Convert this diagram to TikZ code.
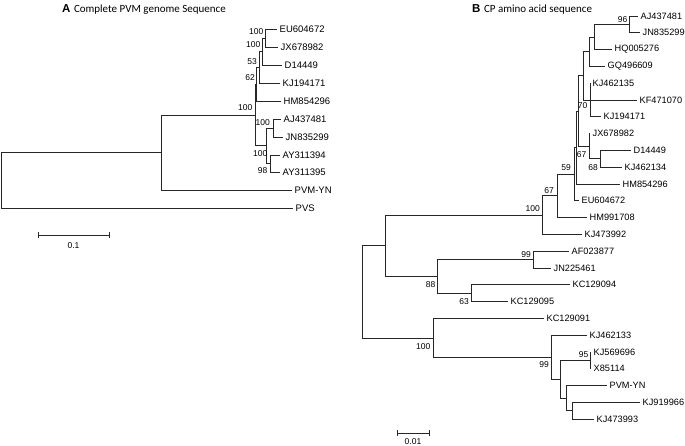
\documentclass[tikz,border=0pt]{standalone}
\usepackage{fontspec}
\setmainfont{Liberation Sans}
\newfontfamily\titlefont{Carlito}
\begin{document}
\begin{tikzpicture}[x=1pt,y=-1pt,
  br/.style={line width=0.8pt,draw=black!85},
  leafA/.style={anchor=west,inner xsep=2.5pt,inner ysep=0.5pt,font=\fontsize{9.5}{10}\selectfont},
  leafB/.style={anchor=west,inner xsep=2.5pt,inner ysep=0.5pt,font=\fontsize{9.2}{10}\selectfont},
  bs/.style={anchor=east,inner sep=0pt,font=\fontsize{8.5}{9}\selectfont},
  ttl/.style={anchor=base west,inner sep=0pt},
  sclab/.style={inner sep=0pt,font=\fontsize{8.5}{9}\selectfont}]
\useasboundingbox (0,0) rectangle (685,446);

% ---------------- Panel A ----------------
\node[ttl] (titleA) at (62,13) {\fontsize{11.5}{12}\selectfont\bfseries A\hspace{3.5pt}\titlefont\fontsize{11}{12}\selectfont\mdseries Complete PVM genome Sequence};

\coordinate (rA) at (1,180);
\coordinate (NA) at (161,152.5);
\coordinate (IN) at (255,115);
\coordinate (N4) at (256,84.2);
\coordinate (N3) at (259,67.4);
\coordinate (N2) at (262,51.8);
\coordinate (N1) at (265,38.5);
\coordinate (L) at (266,145.9);
\coordinate (AJN) at (273,128.3);
\coordinate (AY) at (270,163.7);

\node[leafA] (aEU) at (277,29.5) {EU604672};
\node[leafA] (aJX) at (278,47.5) {JX678982};
\node[leafA] (aD) at (282,65) {D14449};
\node[leafA] (aKJ) at (280,83) {KJ194171};
\node[leafA] (aHM) at (281,101) {HM854296};
\node[leafA] (aAJ) at (281,119.5) {AJ437481};
\node[leafA] (aJN) at (283,137) {JN835299};
\node[leafA] (aAY4) at (280,155) {AY311394};
\node[leafA] (aAY5) at (280,172.5) {AY311395};
\node[leafA] (aPVM) at (292,190) {PVM-YN};
\node[leafA] (aPVS) at (293,208) {PVS};

\draw[br] (rA) |- (aPVS.west);
\draw[br] (rA) |- (NA);
\draw[br] (NA) |- (aPVM.west);
\draw[br] (NA) |- (IN);
\draw[br] (IN) |- (N4);
\draw[br] (IN) |- (L);
\draw[br] (N4) |- (N3);
\draw[br] (N4) |- (aHM.west);
\draw[br] (N3) |- (N2);
\draw[br] (N3) |- (aKJ.west);
\draw[br] (N2) |- (N1);
\draw[br] (N2) |- (aD.west);
\draw[br] (N1) |- (aEU.west);
\draw[br] (N1) |- (aJX.west);
\draw[br] (L) |- (AJN);
\draw[br] (L) |- (AY);
\draw[br] (AJN) |- (aAJ.west);
\draw[br] (AJN) |- (aJN.west);
\draw[br] (AY) |- (aAY4.west);
\draw[br] (AY) |- (aAY5.west);

\node[bs] (bA1) at (263.5,32) {100};
\node[bs] (bA2) at (260.5,45) {100};
\node[bs] (bA3) at (257,62) {53};
\node[bs] (bA4) at (255,77.5) {62};
\node[bs] (bA5) at (252.5,107.5) {100};
\node[bs] (bA6) at (270,122.5) {100};
\node[bs] (bA7) at (267.5,154) {100};
\node[bs] (bA8) at (267.5,171) {98};

\coordinate (sa1) at (38,235);
\coordinate (sa2) at (109,235);
\draw[br] (sa1) -- (sa2);
\draw[br] ([yshift=-3pt]sa1) -- ([yshift=3pt]sa1);
\draw[br] ([yshift=-3pt]sa2) -- ([yshift=3pt]sa2);
\node[sclab] (sca) at (73.5,246) {0.1};

% ---------------- Panel B ----------------
\node[ttl] (titleB) at (472,13) {\fontsize{11.5}{12}\selectfont\bfseries B\hspace{3.5pt}\titlefont\fontsize{11}{12}\selectfont\mdseries CP amino acid sequence};

\coordinate (n96) at (629,24.4);
\coordinate (nHQ) at (594,37);
\coordinate (nGQ) at (589,51.7);
\coordinate (n70) at (590,100);
\coordinate (nU) at (583,75.85);
\coordinate (n68) at (600,158.8);
\coordinate (n67) at (589,146.2);
\coordinate (nBig1) at (578,111);
\coordinate (nBig2) at (576.5,147.5);
\coordinate (n59) at (574,174.2);
\coordinate (n67b) at (557,195.9);
\coordinate (n100) at (542,215.1);
\coordinate (n99) at (533,259.6);
\coordinate (n63) at (471,293.2);
\coordinate (n88) at (437,276.4);
\coordinate (nA) at (385,245.8);
\coordinate (n95) at (590,360.4);
\coordinate (nF) at (572,410.8);
\coordinate (nP) at (566,398.2);
\coordinate (nQ) at (560,379.3);
\coordinate (n99b) at (551,357.3);
\coordinate (nB) at (433,337.9);
\coordinate (rB) at (362,291.9);

\node[leafB] (bAJ) at (638,16) {AJ437481};
\node[leafB] (bJN) at (640,32.8) {JN835299};
\node[leafB] (bHQ) at (612,49.6) {HQ005276};
\node[leafB] (bGQ) at (605,66.4) {GQ496609};
\node[leafB] (bKJ35) at (590,83.2) {KJ462135};
\node[leafB] (bKF) at (637,100) {KF471070};
\node[leafB] (bKJ71) at (601,116.8) {KJ194171};
\node[leafB] (bJX) at (590,133.6) {JX678982};
\node[leafB] (bD) at (631,150.4) {D14449};
\node[leafB] (bKJ34) at (622,167.2) {KJ462134};
\node[leafB] (bHM96) at (620,184) {HM854296};
\node[leafB] (bEU) at (579,200.8) {EU604672};
\node[leafB] (bHM08) at (587,217.6) {HM991708};
\node[leafB] (bKJ92) at (582,234.4) {KJ473992};
\node[leafB] (bAF) at (569,251.2) {AF023877};
\node[leafB] (bJN61) at (551,268) {JN225461};
\node[leafB] (bKC94) at (570,284.8) {KC129094};
\node[leafB] (bKC95) at (508,301.6) {KC129095};
\node[leafB] (bKC91) at (544,318.4) {KC129091};
\node[leafB] (bKJ33) at (587,335.2) {KJ462133};
\node[leafB] (bKJ96) at (591,352) {KJ569696};
\node[leafB] (bX) at (591,368.8) {X85114};
\node[leafB] (bPVM) at (607,385.6) {PVM-YN};
\node[leafB] (bKJ66) at (640,402.4) {KJ919966};
\node[leafB] (bKJ93) at (594,419.2) {KJ473993};

\draw[br] (rB) |- (nA);
\draw[br] (rB) |- (nB);
\draw[br] (nA) |- (n100);
\draw[br] (nA) |- (n88);
\draw[br] (n100) |- (n67b);
\draw[br] (n100) |- (bKJ92.west);
\draw[br] (n67b) |- (n59);
\draw[br] (n67b) |- (bHM08.west);
\draw[br] (n59) |- (nBig2);
\draw[br] (n59) |- (bEU.west);
\draw[br] (nBig2) |- (nBig1);
\draw[br] (nBig2) |- (bHM96.west);
\draw[br] (nBig1) |- (nU);
\draw[br] (nBig1) |- (n67);
\draw[br] (nU) |- (nGQ);
\draw[br] (nU) |- (n70);
\draw[br] (nGQ) |- (nHQ);
\draw[br] (nGQ) |- (bGQ.west);
\draw[br] (nHQ) |- (n96);
\draw[br] (nHQ) |- (bHQ.west);
\draw[br] (n96) |- (bAJ.west);
\draw[br] (n96) |- (bJN.west);
\draw[br] (n70) |- (bKJ35.west);
\draw[br] (n70) |- (bKF.west);
\draw[br] (n70) |- (bKJ71.west);
\draw[br] (n67) |- (bJX.west);
\draw[br] (n67) |- (n68);
\draw[br] (n68) |- (bD.west);
\draw[br] (n68) |- (bKJ34.west);
\draw[br] (n88) |- (n99);
\draw[br] (n88) |- (n63);
\draw[br] (n99) |- (bAF.west);
\draw[br] (n99) |- (bJN61.west);
\draw[br] (n63) |- (bKC94.west);
\draw[br] (n63) |- (bKC95.west);
\draw[br] (nB) |- (bKC91.west);
\draw[br] (nB) |- (n99b);
\draw[br] (n99b) |- (bKJ33.west);
\draw[br] (n99b) |- (nQ);
\draw[br] (nQ) |- (n95);
\draw[br] (nQ) |- (nP);
\draw[br] (n95) |- (bKJ96.west);
\draw[br] (n95) |- (bX.west);
\draw[br] (nP) |- (bPVM.west);
\draw[br] (nP) |- (nF);
\draw[br] (nF) |- (bKJ66.west);
\draw[br] (nF) |- (bKJ93.west);

\node[bs] (bb96) at (627.5,19.5) {96};
\node[bs] (bb70) at (587.5,105.5) {70};
\node[bs] (bb67) at (586.5,155) {67};
\node[bs] (bb68) at (598,168) {68};
\node[bs] (bb59) at (571,168) {59};
\node[bs] (bb67b) at (554,191) {67};
\node[bs] (bb100) at (540,209) {100};
\node[bs] (bb99) at (531,254.5) {99};
\node[bs] (bb88) at (435.5,285) {88};
\node[bs] (bb63) at (469,302) {63};
\node[bs] (bb100b) at (430.5,346.5) {100};
\node[bs] (bb95) at (588.5,355) {95};
\node[bs] (bb99b) at (549,365) {99};

\coordinate (sb1) at (397,433.3);
\coordinate (sb2) at (429,433.3);
\draw[br] (sb1) -- (sb2);
\draw[br] ([yshift=-3pt]sb1) -- ([yshift=3pt]sb1);
\draw[br] ([yshift=-3pt]sb2) -- ([yshift=3pt]sb2);
\node[sclab] (scb) at (413,442) {0.01};
\end{tikzpicture}
\end{document}
